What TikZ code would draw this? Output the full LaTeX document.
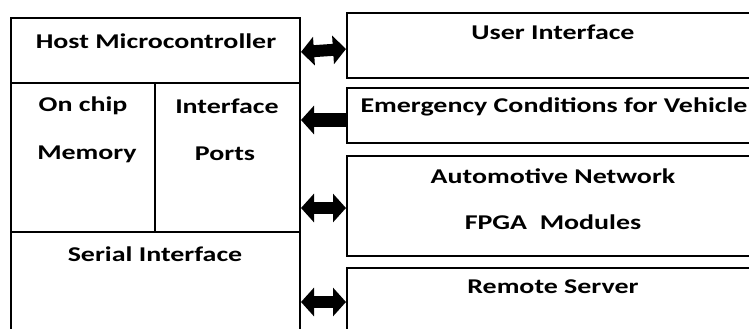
\documentclass[tikz,border=0pt]{standalone}
\usepackage{fontspec}
\newfontfamily\labfont{Carlito}[FakeStretch=1.33]
\usetikzlibrary{arrows.meta,fit}
\begin{document}
\begin{tikzpicture}[x=1pt,y=-1pt,
  blk/.style={draw=black,line width=2pt,inner sep=0pt,rectangle},
  lab/.style={font=\labfont\bfseries\fontsize{21}{25}\selectfont,inner sep=0pt,anchor=center},
  both/.style={line width=12pt,{Triangle[length=13pt,width=28pt]}-{Triangle[length=13pt,width=28pt]}},
  toleft/.style={line width=14pt,{Triangle[length=13pt,width=28pt]}-}]
\clip (0,0) rectangle (749,329);
\fill[white] (0,0) rectangle (749,329);
% left block
\node[blk,fit={(11,18)(300,83)}] (host) {};
\node[blk,fit={(11,83)(155,232)}] (mem) {};
\node[blk,fit={(155,83)(300,232)}] (ports) {};
\node[blk,fit={(11,232)(300,350)}] (serial) {};
% right blocks
\node[blk,fit={(347,13)(770,78)}] (ui) {};
\node[blk,fit={(347,88)(770,143)}] (emerg) {};
\node[blk,fit={(347,156)(770,256)}] (auto) {};
\node[blk,fit={(347,268)(770,350)}] (remote) {};
% texts
\node[lab] (thost) at (156,41) {Host Microcontroller};
\node[lab] (tonchip) at (83,106) {On chip};
\node[lab] (tmemory) at (87,154) {Memory};
\node[lab] (tinterface) at (227,106) {Interface};
\node[lab] (tports) at (225,154) {Ports};
\node[lab] (tserial) at (155,254) {Serial Interface};
\node[lab] (tui) at (553,32) {User Interface};
\node[lab] (temerg) at (554,107) {Emergency Conditions for Vehicle};
\node[lab] (tauto) at (553,176) {Automotive Network};
\node[lab] (tfpga) at (553,222) {FPGA\ \ Modules};
\node[lab] (tremote) at (553,287) {Remote Server};
% connectors
\draw[both] ([yshift=-1.5pt]host.east) -- ([yshift=-3.5pt]ui.west);
\draw[toleft] ([yshift=37.5pt]ports.east) -- ([yshift=-4.5pt]emerg.west);
\draw[both] ([yshift=-50.5pt]ports.east) -- ([yshift=-2pt]auto.west);
\draw[both] ([yshift=-11pt]serial.east) -- ([yshift=7pt]remote.west);
\end{tikzpicture}
\end{document}
